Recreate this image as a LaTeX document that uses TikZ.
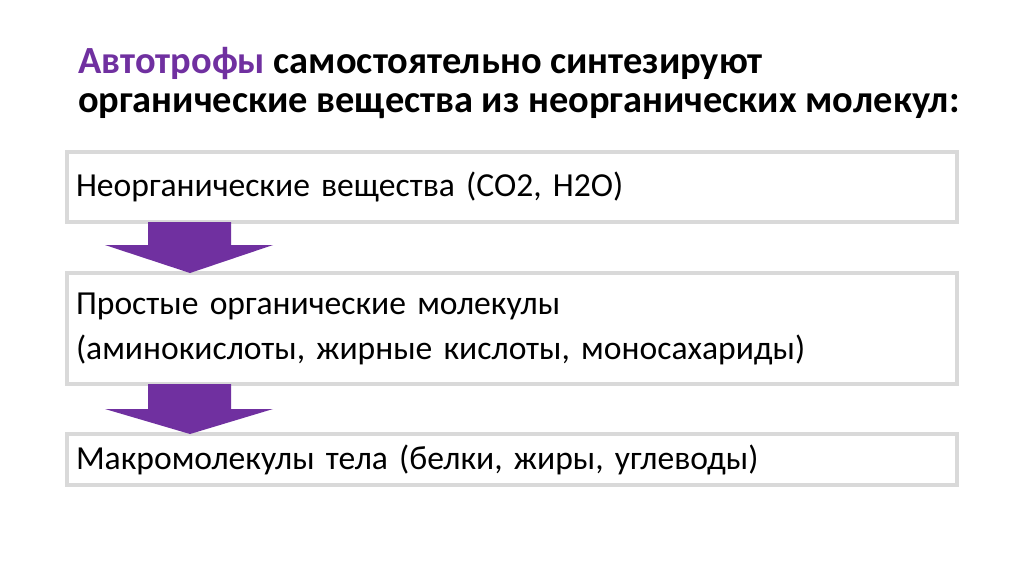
\documentclass[tikz,border=0pt]{standalone}
\usepackage{fontspec}
\setmainfont{Carlito}
\definecolor{violetA}{HTML}{7030A0}
\definecolor{boxgray}{HTML}{D9D9D9}
\begin{document}
\begin{tikzpicture}[x=1pt,y=-1pt,
  box/.style={draw=boxgray,line width=4pt,fill=white,outer sep=0pt,inner xsep=9pt,
    minimum width=890pt,text width=872pt,align=left,font=\fontsize{33.6}{45}\selectfont},
  blockarrow/.style={fill=violetA,draw=none}]
\useasboundingbox[fill=white] (0,0) rectangle (1024,574);
\node[anchor=base west,font=\bfseries\fontsize{38.4}{39}\selectfont,align=left,inner sep=0pt] (title) at (78,112)
  {\textcolor{violetA}{Автотрофы} самостоятельно синтезируют\\органические вещества из неорганических молекул:};
\node[box,minimum height=70pt] (b1) at (512,187) {Неорганические вещества (CO2, H2O)};
\node[box,minimum height=111pt] (b2) at (512,328.5) {Простые органические молекулы\\(аминокислоты, жирные кислоты, моносахариды)};
\node[box,minimum height=51pt] (b3) at (512,459.5) {Макромолекулы тела (белки, жиры, углеводы)};
\coordinate (a1tip) at (190,0 |- b2.north);
\coordinate (a2tip) at (190,0 |- b3.north);
\fill[blockarrow] (148,0 |- b1.south) -- (231,0 |- b1.south) -- (231,245) -- (273,245) -- (a1tip) -- (105,245) -- (148,245) -- cycle;
\fill[blockarrow] (148,0 |- b2.south) -- (231,0 |- b2.south) -- (231,409) -- (273,409) -- (a2tip) -- (105,409) -- (148,409) -- cycle;
\end{tikzpicture}
\end{document}
